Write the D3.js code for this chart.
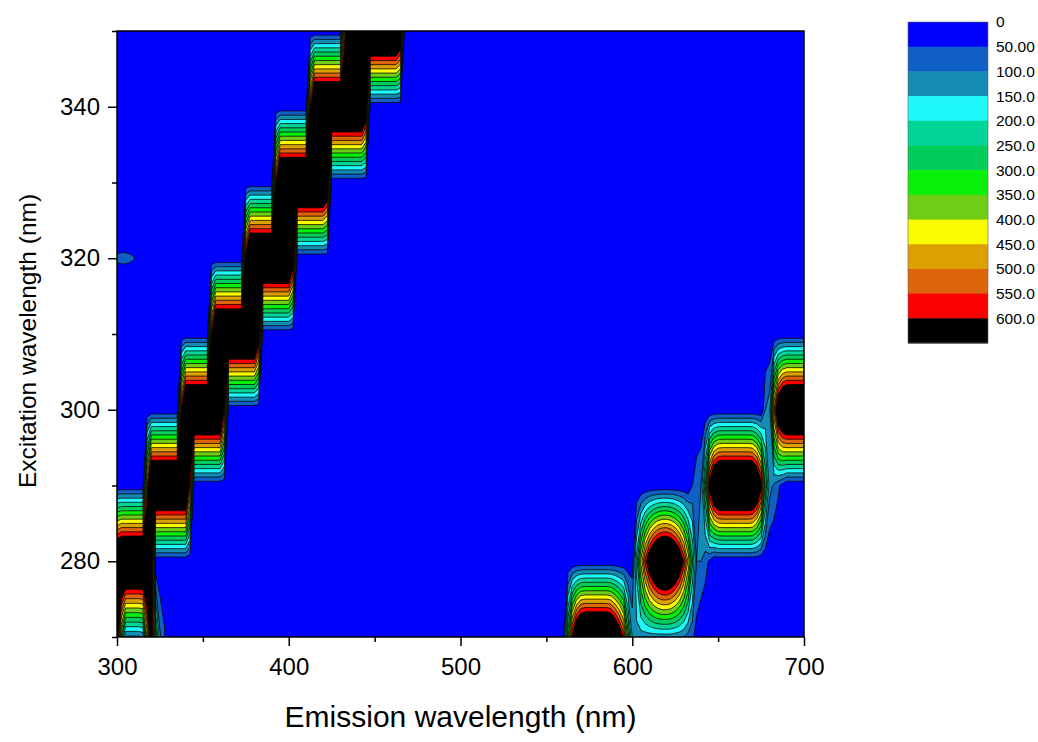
<!DOCTYPE html>
<html>
<head>
<meta charset="utf-8">
<script src="https://cdn.jsdelivr.net/npm/d3@7"></script>
<style>
body { margin: 0; background: #fff; }
text { font-family: Arial, "Liberation Sans", sans-serif; fill: #000; }
</style>
</head>
<body>
<div id="chart-area"></div>
<script>
/**
 * EEM contour map (excitation vs emission)
 */

// grid: excitation rows every 10 nm, emission columns every 2.5 nm
var excitation = [270, 280, 290, 300, 310, 320, 330, 340, 350];
var emStart = 300, emEnd = 700, emStep = 2.5, exStep = 10;
var emission = d3.range(emStart, emEnd + emStep / 2, emStep);

// intensity, per excitation row: {em: first emission, v: values every 2.5 nm}, blank = 0
var ex270 = [{em: 300, v: [700, 300, 90, 90, 90, 90, 100, 400, 700, 300, 110, 60]},
             {em: 557.5, v: [0, 50, 330, 600, 780, 880, 900, 900, 900, 900, 900, 900, 880, 800, 700, 580, 330,
                             150, 130, 125, 120, 120, 120, 120, 120, 120, 120, 115, 110, 100, 80, 60, 30]}];
var ex280 = [{em: 300, v: [850, 900, 900, 900, 900, 900, 900, 900, 700, 0]},
             {em: 600, v: [20, 221, 411, 570, 698, 795, 862, 894, 897, 869, 810, 720, 598, 446, 262,
                           100, 100, 70, 40]}];
var ex290 = [{em: 315, v: [0, 500, 900, 900, 900, 900, 900, 900, 900, 900, 900, 550, 0]},
             {em: 635, v: [50, 80, 100, 300, 650, 820, 890, 900, 900, 900, 900, 900, 900, 900, 890, 800, 640,
                           300, 120, 90, 60, 30]}];
var ex300 = [{em: 335, v: [0, 600, 900, 900, 900, 900, 900, 900, 900, 900, 900, 600, 0]},
             {em: 677.5, v: [100, 130, 500, 750, 860, 900, 900, 900, 900, 900]}];
var ex310 = [{em: 352.5, v: [0, 600, 900, 900, 900, 900, 900, 900, 900, 900, 900, 900, 700, 0]}];
var ex320 = [{em: 300, v: [53, 54, 54, 53, 51, 0]},
             {em: 372.5, v: [0, 650, 900, 900, 900, 900, 900, 900, 900, 900, 900, 900, 700, 0]}];
var ex330 = [{em: 390, v: [0, 600, 900, 900, 900, 900, 900, 900, 900, 900, 900, 900, 900, 800, 0]}];
var ex340 = [{em: 410, v: [0, 600, 900, 900, 900, 900, 900, 900, 900, 900, 900, 900, 900, 900, 750, 0]}];
var ex350 = [{em: 430, v: [0, 500, 900, 900, 900, 900, 900, 900, 900, 900, 900, 900, 900, 900, 800, 0]}];
var rows = [ex270, ex280, ex290, ex300, ex310, ex320, ex330, ex340, ex350];

var levels = [50, 100, 150, 200, 250, 300, 350, 400, 450, 500, 550, 600];
var levelLabels = ['0', '50.00', '100.0', '150.0', '200.0', '250.0', '300.0',
                   '350.0', '400.0', '450.0', '500.0', '550.0', '600.0'];
var levelColors = ['#0000FF', '#105FC4', '#148CB4', '#1EF8F8', '#00D496', '#00CD5A', '#08F008',
                   '#6ECD14', '#FAFA00', '#DCA000', '#DC640A', '#FA0000', '#000000'];

var emTicks = [300, 400, 500, 600, 700];
var emMinor = [350, 450, 550, 650];
var exTicks = [280, 300, 320, 340];
var exMinor = [270, 290, 310, 330, 350];

var svgWidth = 1038;
var svgHeight = 742;
var margin = {left: 117, top: 31, right: 234, bottom: 105};
var width = svgWidth - margin.left - margin.right;
var height = svgHeight - margin.top - margin.bottom;

var svg = d3.select('#chart-area')
            .append('svg')
            .attr('width', svgWidth)
            .attr('height', svgHeight);

var g = svg.append('g')
           .attr('transform', 'translate(' + margin.left + ',' + margin.top + ')');

var x = d3.scaleLinear().domain([emStart, emEnd]).range([0, width]);
var y = d3.scaleLinear().domain([270, 350]).range([height, 0]);

// flat grid for d3.contours
var values = [];
rows.forEach(function(segs) {
    var line = emission.map(function() { return 0; });
    segs.forEach(function(s) {
        s.v.forEach(function(val, k) {
            line[Math.round((s.em - emStart) / emStep) + k] = val;
        });
    });
    values = values.concat(line);
});

var contours = d3.contours()
                 .size([emission.length, excitation.length])
                 .thresholds(levels)(values);

// grid cell centre i+0.5 -> data value
var gridPath = d3.geoPath(d3.geoTransform({
    point: function(gx, gy) {
        this.stream.point(x(emStart + (gx - 0.5) * emStep),
                          y(excitation[0] + (gy - 0.5) * exStep));
    }
}));

g.append('clipPath').attr('id', 'plot-clip')
 .append('rect').attr('width', width).attr('height', height);

var map = g.append('g').attr('clip-path', 'url(#plot-clip)');

map.append('rect')
   .attr('width', width)
   .attr('height', height)
   .attr('fill', levelColors[0]);

map.selectAll('path')
   .data(contours)
   .enter()
   .append('path')
   .attr('d', gridPath)
   .attr('fill', function(d, i) { return levelColors[i + 1]; })
   .attr('stroke', '#000')
   .attr('stroke-width', 0.75)
   .attr('stroke-linejoin', 'round');

// frame
g.append('rect')
 .attr('width', width)
 .attr('height', height)
 .attr('fill', 'none')
 .attr('stroke', '#000')
 .attr('stroke-width', 1.5);

// axes
function styleAxis(sel) {
    sel.select('.domain').remove();
    sel.selectAll('line').attr('stroke', '#000').attr('stroke-width', 1.5);
    sel.selectAll('text').style('font-size', '24px').style('font-family', 'Arial, "Liberation Sans", sans-serif');
}

g.append('g')
 .attr('transform', 'translate(0,' + height + ')')
 .call(d3.axisBottom(x).tickValues(emTicks).tickSize(9).tickPadding(12))
 .call(styleAxis);

g.append('g')
 .attr('transform', 'translate(0,' + height + ')')
 .call(d3.axisBottom(x).tickValues(emMinor).tickSize(5).tickFormat(''))
 .call(styleAxis);

g.append('g')
 .call(d3.axisLeft(y).tickValues(exTicks).tickSize(9).tickPadding(8))
 .call(styleAxis);

g.append('g')
 .call(d3.axisLeft(y).tickValues(exMinor).tickSize(5).tickFormat(''))
 .call(styleAxis);

// titles
g.append('text')
 .attr('x', width / 2)
 .attr('y', height + 90)
 .attr('text-anchor', 'middle')
 .style('font-size', '30px')
 .text('Emission wavelength (nm)');

g.append('text')
 .attr('transform', 'translate(' + (-81) + ',' + (height / 2 + 7) + ') rotate(-90)')
 .attr('text-anchor', 'middle')
 .style('font-size', '24.5px')
 .text('Excitation wavelength (nm)');

// colour scale
var cb = d3.scaleLinear().domain([0, levelColors.length]).range([22, 343]);
var legend = svg.append('g');

legend.selectAll('rect')
      .data(levelColors)
      .enter()
      .append('rect')
      .attr('x', 908)
      .attr('y', function(d, i) { return cb(i); })
      .attr('width', 80)
      .attr('height', cb(1) - cb(0) + 0.5)
      .attr('fill', function(d) { return d; });

legend.append('rect')
      .attr('x', 908)
      .attr('y', cb(0))
      .attr('width', 80)
      .attr('height', cb(levelColors.length) - cb(0))
      .attr('fill', 'none')
      .attr('stroke', '#666')
      .attr('stroke-width', 0.6);

legend.selectAll('text')
      .data(levelLabels)
      .enter()
      .append('text')
      .attr('x', 996)
      .attr('y', function(d, i) { return cb(i); })
      .attr('dy', '0.35em')
      .style('font-size', '15.5px')
      .text(function(d) { return d; });
</script>
</body>
</html>
